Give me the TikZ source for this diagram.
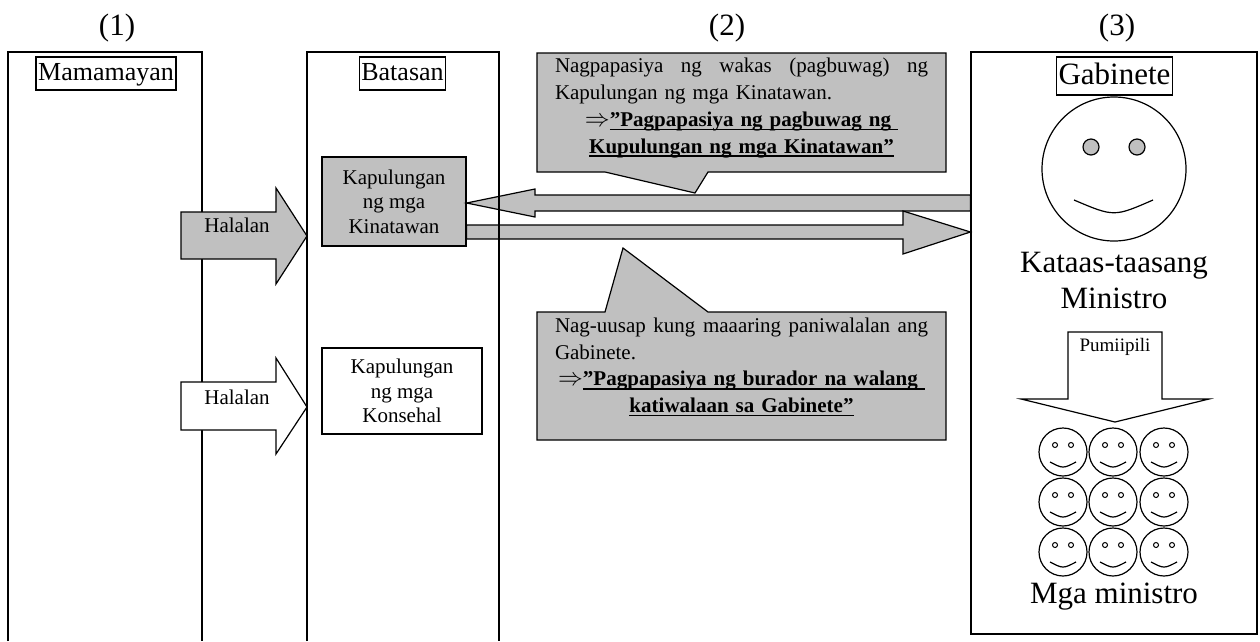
\documentclass[tikz,border=0pt]{standalone}
\usepackage{fontspec}
\setmainfont{Liberation Serif}
\usepackage{graphicx}
\usepackage{tikz}

\definecolor{silver}{HTML}{C0C0C0}
\newcommand{\thickul}[1]{\setbox0\hbox{#1}\rlap{\rule[-3.8pt]{\wd0}{1.4pt}}\box0}
\newcommand{\boldline}[1]{\makebox[373pt]{\fontsize{21}{26.7}\selectfont#1}}
\newcommand{\noteline}[1]{\makebox[373pt][l]{\fontsize{21}{26.7}\selectfont#1}}
\newcommand{\thenarrow}{\smash{\scalebox{1.2}{$\Rightarrow$}}}

\begin{document}
\begin{tikzpicture}[x=1pt,y=-1pt,line width=1.2pt,
  small/.style={font=\fontsize{21}{24.5}\selectfont,align=center},
  big/.style={font=\fontsize{31}{36}\selectfont,align=center},
  titlebox/.style={draw,inner xsep=2.2pt,inner ysep=4pt},
  blockarrow/.style={draw,fill=silver,line join=miter},
  note/.style={text width=373pt,inner sep=0pt,font=\fontsize{21}{26.7}\selectfont}]
\useasboundingbox (0,0) rectangle (1260,641);

\node[big] (one) at (117,28) {(1)};
\node[big] (two) at (727,28) {(2)};
\node[big] (three) at (1117,28) {(3)};

% columns
\draw (8,641) -- (8,52) -- (202,52) -- (202,641);
\node[draw,minimum width=286pt,minimum height=582pt,inner sep=0pt] (cab) at (1114,343) {};

\node[titlebox,font=\fontsize{26}{26}\selectfont,text height=19pt,text depth=6pt] (mam) at (106,73.5) {Mamamayan};
\node[titlebox,font=\fontsize{26}{26}\selectfont,text height=19pt,text depth=6pt] (bat) at (402.5,73.5) {Batasan};
\node[titlebox,font=\fontsize{31}{31}\selectfont,text height=23pt,text depth=7pt] (gab) at (1114.5,76) {Gabinete};

\node[draw,fill=silver,small,minimum width=144pt,minimum height=89pt] (kin) at (394,201.5) {Kapulungan\\ng mga\\Kinatawan};
\node[draw,fill=white,small,minimum width=160pt,minimum height=86pt] (kon) at (402,391) {Kapulungan\\ng mga\\Konsehal};

% arrows between Kinatawan and Gabinete
\draw[blockarrow] (kin.east |- 0,203) -- (535,189) -- (535,195) -- (cab.west |- 0,195)
  -- (cab.west |- 0,211) -- (535,211) -- (535,217) -- cycle;
\draw[blockarrow] (kin.east |- 0,225) -- (903,225) -- (903,211) -- (cab.west |- 0,232)
  -- (903,254) -- (903,239) -- (kin.east |- 0,239) -- cycle;
\draw (307,641) -- (307,52) -- (499,52) -- (499,641);

% Halalan
\draw[blockarrow] (181,212) -- (276,212) -- (276,188) -- (307,236) -- (276,284) -- (276,259) -- (181,259) -- cycle;
\node[small] (hala) at (237,225) {Halalan};
\draw[blockarrow,fill=white] (181,382) -- (276,382) -- (276,358) -- (307,407) -- (276,454) -- (276,430) -- (181,430) -- cycle;
\node[small] (halb) at (237,397) {Halalan};

% callouts
\draw[blockarrow] (537,53) -- (946,53) -- (946,172) -- (708,172) -- (695,193) -- (605,172) -- (537,172) -- cycle;
\node[note] (dissolve) at (741.5,108) {%
  \noteline{Nagpapasiya\hfill ng\hfill wakas\hfill (pagbuwag)\hfill ng}\\
  \noteline{Kapulungan ng mga Kinatawan.}\\
  \boldline{\thenarrow\textbf{\thickul{”Pagpapasiya ng pagbuwag ng\ }}}\\
  \boldline{\textbf{\thickul{Kupulungan ng mga Kinatawan”}}}};
\draw[blockarrow] (537,312) -- (605,312) -- (623,248) -- (708,312) -- (946,312) -- (946,440) -- (537,440) -- cycle;
\node[note] (distrust) at (741.5,367) {%
  \noteline{Nag-uusap\hfill kung\hfill maaaring\hfill paniwalalan\hfill ang}\\
  \noteline{Gabinete.}\\
  \boldline{\thenarrow\textbf{\thickul{”Pagpapasiya ng burador na walang\ }}}\\
  \boldline{\textbf{\thickul{katiwalaan sa Gabinete”}}}};

% prime minister
\draw (1114,169) circle (72pt);
\filldraw[fill=silver] (1091,147) circle (8pt) (1137,147) circle (8pt);
\draw (1074,200) .. controls (1114,217) .. (1153,200);
\node[big] (kat) at (1114,280) {Kataas-taasang\\Ministro};

\draw[fill=white,line join=miter] (1068,332) -- (1162,332) -- (1162,399) -- (1209,399) -- (1115,422) -- (1021,399) -- (1068,399) -- cycle;
\node[font=\fontsize{19}{19}\selectfont] (pum) at (1115,347) {Pumiipili};

% ministers
\foreach \cx in {1063,1113,1164}
  \foreach \cy in {452,502,552} {
    \draw (\cx,\cy) circle (24pt);
    \draw[line width=1pt] (\cx-8,\cy-7) circle (2.5pt) (\cx+8,\cy-7) circle (2.5pt);
    \draw (\cx-13,\cy+10) .. controls (\cx,\cy+16.7) .. (\cx+13,\cy+10);
  }
\node[big] (mgamin) at (1114,597) {Mga ministro};
\end{tikzpicture}
\end{document}
